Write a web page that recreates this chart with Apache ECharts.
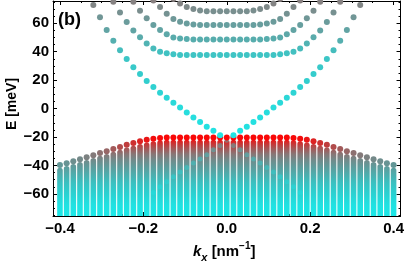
<!DOCTYPE html>
<html><head><meta charset="utf-8">
<script src="https://cdn.jsdelivr.net/npm/echarts@6/dist/echarts.min.js"></script>
<style>html,body{margin:0;padding:0;background:#fff}#c{width:407px;height:262px}</style>
</head><body><div id="c"></div>
<script>
// ---- data ----
const kx = [-0.4,-0.384,-0.368,-0.352,-0.336,-0.32,-0.304,-0.288,-0.272,-0.256,-0.24,-0.224,-0.208,-0.192,-0.176,-0.16,-0.144,-0.128,-0.112,-0.096,-0.08,-0.064,-0.048,-0.032,-0.016,0,0.016,0.032,0.048,0.064,0.08,0.096,0.112,0.128,0.144,0.16,0.176,0.192,0.208,0.224,0.24,0.256,0.272,0.288,0.304,0.32,0.336,0.352,0.368,0.384,0.4];

// top row of the valence continuum (meV)
const valenceTop = [-39.7,-38.5,-37.0,-35.7,-34.2,-32.8,-31.3,-30.0,-28.5,-27.0,-25.5,-24.2,-23.0,-22.0,-21.2,-20.7,-20.4,
  -20.3,-20.3,-20.3,-20.3,-20.3,-20.3,-20.3,-20.3,-20.3,-20.3,-20.3,-20.3,-20.3,-20.3,-20.3,-20.3,-20.3,
  -20.4,-20.7,-21.2,-22.0,-23.0,-24.2,-25.5,-27.0,-28.5,-30.0,-31.3,-32.8,-34.2,-35.7,-37.0,-38.5,-39.7];

// second row, where the dense continuum starts (meV)
const continuumTop = [-43.7,-42.5,-41.0,-39.7,-38.2,-36.8,-35.3,-34.0,-32.5,-31.0,-29.5,-28.2,-27.0,-26.0,-25.0,-24.4,-24.1,
  -24.0,-24.0,-24.0,-24.0,-24.0,-24.0,-24.0,-24.0,-24.0,-24.0,-24.0,-24.0,-24.0,-24.0,-24.0,-24.0,-24.0,
  -24.1,-24.4,-25.0,-26.0,-27.0,-28.2,-29.5,-31.0,-32.5,-34.0,-35.3,-36.8,-38.2,-39.7,-41.0,-42.5,-43.7];

// conduction subbands (meV), null = outside the plot
const bandA = [null,null,null,null,null,null,null,null,
  75.0,67.6,60.8,54.9,50.2,45.8,42.3,39.9,38.8,38.1,
  37.7,37.7,37.7,37.7,37.7,37.7,37.7,37.7,37.7,37.7,37.7,37.7,37.7,37.7,37.7,
  38.1,38.8,39.9,42.3,45.8,50.2,54.9,60.8,67.6,75.0,
  null,null,null,null,null,null,null,null];
const bandB = [null,null,null,null,null,null,null,null,null,null,null,
  75.0,68.8,63.4,58.7,55.2,52.2,50.0,49.3,48.9,
  48.6,48.6,48.6,48.6,48.6,48.6,48.6,48.6,48.6,48.6,48.6,
  48.9,49.3,50.0,52.2,55.2,58.7,63.4,68.8,75.0,
  null,null,null,null,null,null,null,null,null,null,null];
const bandC = [null,null,null,null,null,null,null,null,null,null,null,null,null,null,
  76.0,71.3,66.6,63.0,61.0,59.8,59.0,
  58.8,58.8,58.8,58.8,58.8,58.8,58.8,58.8,58.8,
  59.0,59.8,61.0,63.0,66.6,71.3,76.0,
  null,null,null,null,null,null,null,null,null,null,null,null,null,null];
const bandD = [null,null,null,null,null,null,null,null,null,null,null,null,null,null,null,null,null,
  77.0,73.8,71.3,69.9,69.0,
  68.4,68.4,68.4,68.4,68.4,68.4,68.4,
  69.0,69.9,71.3,73.8,77.0,
  null,null,null,null,null,null,null,null,null,null,null,null,null,null,null,null,null];

// crossing (Dirac-like) bands: upper V and lower branches
const diracUp = [null,null,null,null,null,
  72.8,64.1,55.2,47.7,41.0,34.8,29.0,24.3,19.3,15.1,11.1,7.6,4.1,0.7,-2.7,-6.2,-9.4,-12.8,-15.6,-18.8,
  null,
  -18.8,-15.6,-12.8,-9.4,-6.2,-2.7,0.7,4.1,7.6,11.1,15.1,19.3,24.3,29.0,34.8,41.0,47.7,55.2,64.1,72.8,
  null,null,null,null,null];
const diracDown = [null,null,null,null,null,null,null,null,null,null,null,null,null,null,
  -59.0,-55.0,-51.5,-48.0,-44.6,-41.5,-38.3,-35.5,-32.5,-29.0,-26.0,
  -22.3,
  -26.0,-29.0,-32.5,-35.5,-38.3,-41.5,-44.6,-48.0,-51.5,-55.0,-59.0,
  null,null,null,null,null,null,null,null,null,null,null,null,null,null];

// ticks
const xMajorTicks = [-0.4,-0.2,0,0.2,0.4];
const xTickLabels = ['\u22120.4','\u22120.2','0.0','0.2','0.4'];
const xMinorTicks = [-0.35,-0.3,-0.25,-0.15,-0.1,-0.05,0.05,0.1,0.15,0.25,0.3,0.35];
const yMajorTicks = [-60,-40,-20,0,20,40,60];
const yTickLabels = ['\u221260','\u221240','\u221220','0','20','40','60'];
const yMinorTicks = [-75,-70,-65,-55,-50,-45,-35,-30,-25,-15,-10,-5,5,10,15,25,30,35,45,50,55,65,70,75];

// ---- styles ----
const FONT = 'Liberation Sans';
const X_MIN = -0.4167, X_MAX = 0.4167, Y_MIN = -75.5, Y_MAX = 75.6;

const valenceStops = [[-76,[28,232,232]],[-68,[32,226,226]],[-60,[42,210,210]],[-52,[58,192,192]],[-46,[78,172,172]],
  [-40,[98,152,152]],[-36,[114,138,138]],[-32,[136,118,118]],[-28,[166,86,86]],[-24,[208,46,46]],[-21,[246,10,10]],[-19,[255,0,0]]];
const conductionStops = [[-80,[30,232,232]],[-20,[34,228,228]],[0,[40,220,220]],[20,[50,206,206]],[38,[62,196,196]],
  [48,[86,174,174]],[58,[102,160,160]],[68,[120,144,144]],[76,[136,128,128]]];

function colorAt(stops, e) {
  if (e <= stops[0][0]) return rgb(stops[0][1]);
  for (let j = 1; j < stops.length; j++) {
    if (e <= stops[j][0]) {
      const t = (e - stops[j-1][0]) / (stops[j][0] - stops[j-1][0]);
      const a = stops[j-1][1], b = stops[j][1];
      return rgb([0,1,2].map(c => a[c] + (b[c]-a[c]) * t));
    }
  }
  return rgb(stops[stops.length-1][1]);
}
function rgb(c) { return 'rgb(' + c.map(v => Math.round(v)).join(',') + ')'; }

function pts(arr) { return kx.map((k, i) => [k, arr[i]]).filter(p => p[1] !== null); }

const chart = echarts.init(document.getElementById('c'), null, {renderer: 'canvas'});

function axisX(pos, ticks, len, line, labels) {
  return {
    type: 'value', position: pos, min: X_MIN, max: X_MAX,
    axisLine: {show: line, onZero: false, lineStyle: {color: '#000', width: 1}},
    splitLine: {show: false},
    axisTick: {show: true, inside: true, length: len, customValues: ticks, lineStyle: {color: '#000', width: 1}},
    axisLabel: labels ? {show: true, customValues: xMajorTicks, margin: 5,
      formatter: v => xTickLabels[xMajorTicks.indexOf(v)],
      fontSize: 15, fontWeight: 'bold', fontFamily: FONT, color: '#000'} : {show: false}
  };
}
function axisY(pos, ticks, len, line, labels) {
  return {
    type: 'value', position: pos, min: Y_MIN, max: Y_MAX,
    axisLine: {show: line, onZero: false, lineStyle: {color: '#000', width: 1}},
    splitLine: {show: false},
    axisTick: {show: true, inside: true, length: len, customValues: ticks, lineStyle: {color: '#000', width: 1}},
    axisLabel: labels ? {show: true, customValues: yMajorTicks, margin: 4,
      formatter: v => yTickLabels[yMajorTicks.indexOf(v)],
      fontSize: 15, fontWeight: 'bold', fontFamily: FONT, color: '#000'} : {show: false}
  };
}

function scatter(name, arr, stops, z, opacity, size) {
  return {
    type: 'scatter', name: name, data: pts(arr), symbol: 'circle', symbolSize: size || 6, clip: false, z: z,
    itemStyle: {opacity: opacity, color: p => colorAt(stops, p.value[1])},
    emphasis: {disabled: true}
  };
}

chart.setOption({
  animation: false,
  backgroundColor: '#fff',
  grid: {left: 53, right: 5, top: 1, bottom: 46, containLabel: false},
  xAxis: [axisX('bottom', xMajorTicks, 4, true, true), axisX('bottom', xMinorTicks, 2, false, false),
          axisX('top', xMajorTicks, 4, true, false), axisX('top', xMinorTicks, 2, false, false)],
  yAxis: [axisY('left', yMajorTicks, 4, true, true), axisY('left', yMinorTicks, 2, false, false),
          axisY('right', yMajorTicks, 4, true, false), axisY('right', yMinorTicks, 2, false, false)],
  series: [
    {
      type: 'custom', name: 'continuum', z: 1,
      data: pts(continuumTop),
      encode: {x: 0, y: 1},
      renderItem: function (params, api) {
        const p = api.coord([api.value(0), api.value(1)]);
        const yBottom = params.coordSys.y + params.coordSys.height;
        const yA = api.coord([0, -19])[1], yB = api.coord([0, -76])[1];
        const stops = valenceStops.slice().reverse().map(s => ({
          offset: Math.min(1, Math.max(0, (api.coord([0, s[0]])[1] - yA) / (yB - yA))),
          color: rgb(s[1])
        }));
        const w = 5.6, r = 2.8;
        const yT = p[1] - 3;
        return {
          type: 'rect',
          shape: {x: p[0] - w / 2, y: yT, width: w, height: yBottom - yT, r: [r, r, 0, 0]},
          style: {fill: new echarts.graphic.LinearGradient(0, yA, 0, yB, stops, true)}
        };
      }
    },
    scatter('diracDown', diracDown, conductionStops, 2, 0.35, 5),
    scatter('valenceTop', valenceTop, valenceStops, 3, 1),
    scatter('diracUp', diracUp, conductionStops, 4, 1),
    scatter('bandA', bandA, conductionStops, 4, 1),
    scatter('bandB', bandB, conductionStops, 4, 1),
    scatter('bandC', bandC, conductionStops, 4, 1),
    scatter('bandD', bandD, conductionStops, 4, 1)
  ],
  graphic: [
    {type: 'text', x: 58, y: 20, z: 10,
     style: {text: '(b)', fontSize: 18, fontWeight: 'bold', fontFamily: FONT, fill: '#000', align: 'left', verticalAlign: 'middle'}},
    {type: 'text', x: 12, y: 104, rotation: Math.PI / 2, z: 10,
     style: {text: 'E [meV]', fontSize: 14, fontWeight: 'bold', fontFamily: FONT, fill: '#000', align: 'center', verticalAlign: 'middle'}},
    {type: 'text', x: 193, y: 252, z: 10,
     style: {
       text: '{k|k}{sub|x}{n| [nm}{sup|\u22121}{n|]}',
       align: 'left', verticalAlign: 'middle',
       rich: {
         k: {fontSize: 15, fontWeight: 'bold', fontStyle: 'italic', fontFamily: FONT, fill: '#000', lineHeight: 22, verticalAlign: 'middle'},
         n: {fontSize: 15, fontWeight: 'bold', fontFamily: FONT, fill: '#000', lineHeight: 22, verticalAlign: 'middle'},
         sub: {fontSize: 11, fontWeight: 'bold', fontStyle: 'italic', fontFamily: FONT, fill: '#000', lineHeight: 14, verticalAlign: 'bottom'},
         sup: {fontSize: 10, fontWeight: 'bold', fontFamily: FONT, fill: '#000', lineHeight: 10, verticalAlign: 'top'}
       }
     }}
  ]
});
</script>
</body></html>
